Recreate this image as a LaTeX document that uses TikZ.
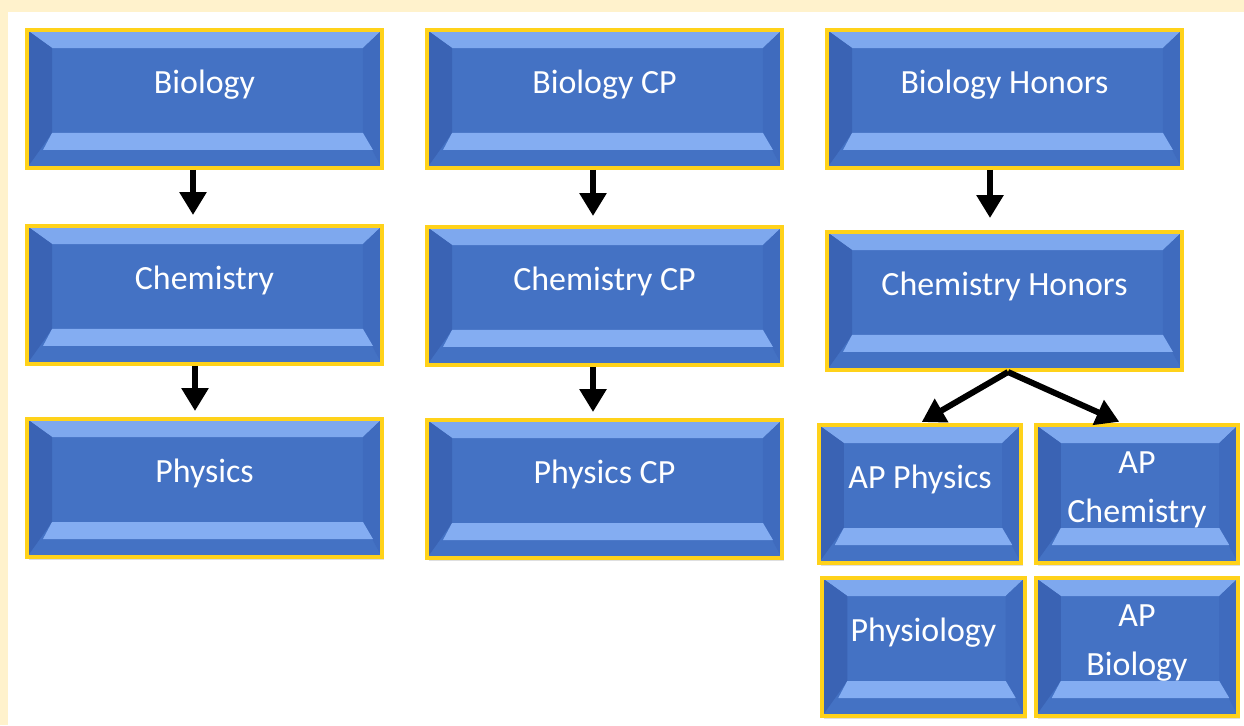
\documentclass[tikz,border=0pt]{standalone}
\usepackage{fontspec}
\setmainfont{Carlito}
\usetikzlibrary{arrows.meta,calc,shadows}

\definecolor{pagecream}{HTML}{FFF2CC}
\definecolor{facebl}{HTML}{4472C4}
\definecolor{bevtop}{HTML}{7EA8EE}
\definecolor{bevleft}{HTML}{3A63B4}
\definecolor{bevright}{HTML}{3F6BBE}
\definecolor{bevbot}{HTML}{84ADF2}
\definecolor{rimgold}{HTML}{FFD21A}

\begin{document}
\begin{tikzpicture}[x=0.02cm,y=-0.02cm,
  course/.style={rectangle,draw=rimgold,line width=0.08cm,fill=facebl,
    minimum width=7.1cm,minimum height=2.76cm,inner sep=0pt,
    text=white,font=\fontsize{19.3}{27.5}\selectfont,
    text height=0.5cm,text depth=0.74cm,
    drop shadow={shadow xshift=0.04cm,shadow yshift=-0.05cm,opacity=0.25},
    path picture={
      \path (path picture bounding box.north west) coordinate (a)
            (path picture bounding box.south east) coordinate (b);
      % bevel faces
      \fill[bevtop] (a) -- (a -| b) -- ($(a -| b)+(-19,18)$) -- ($(a)+(25,18)$) -- cycle;
      \fill[bevleft] (a) -- ($(a)+(25,18)$) -- ($(a |- b)+(25,-35)$) -- (a |- b) -- cycle;
      \fill[bevright] (a -| b) -- ($(a -| b)+(-19,18)$) -- ($(b)+(-19,-35)$) -- (b) -- cycle;
      \fill[bevbot] ($(a |- b)+(25,-35)$) -- ($(b)+(-19,-35)$) -- ($(b)+(-9,-18)$) -- ($(a |- b)+(16,-18)$) -- cycle;
    }},
  small course/.style={course,minimum width=4.05cm},
  two lines/.style={align=center,text height=1.5cm,text depth=0.38cm},
  arrow/.style={draw,line width=0.12cm,-{Triangle[length=0.46cm,width=0.52cm]},shorten >=0.18cm}]

  % page
  \useasboundingbox (0,0) rectangle (1244,725);
  \fill[pagecream] (0,0) rectangle (1244,725);
  \fill[white] (8,12) rectangle (1244,725);

  % general track
  \node[course] (bio) at (204.5,99) {Biology};
  \node[course] (chem) at (204.5,295) {Chemistry};
  \node[course] (phys) at (204.5,488) {Physics};

  % CP track
  \node[course] (biocp) at (604.5,99) {Biology CP};
  \node[course] (chemcp) at (604.5,296) {Chemistry CP};
  \node[course] (physcp) at (604.5,489) {Physics CP};

  % honors track
  \node[course] (bioh) at (1004.5,99) {Biology Honors};
  \node[course] (chemh) at (1004.5,301) {Chemistry Honors};
  \node[small course] (apphys) at (920,494) {AP Physics};
  \node[small course,two lines] (apchem) at (1137,494) {AP\\Chemistry};
  \node[small course] (physio) at (923.5,647) {Physiology};
  \node[small course,two lines] (apbio) at (1137,647) {AP\\Biology};

  \path[every edge/.style={arrow}]
   ([xshift=-0.23cm]bio.south) edge ([xshift=-0.23cm]chem.north)
   ([xshift=-0.19cm]chem.south) edge[shorten >=0.12cm] ([xshift=-0.19cm]phys.north)
   ([xshift=-0.23cm]biocp.south) edge ([xshift=-0.23cm]biocp.south |- chemcp.north)
   ([xshift=-0.23cm]chemcp.south) edge[shorten >=0.12cm] ([xshift=-0.23cm]physcp.north)
   ([xshift=-0.29cm]bioh.south) edge[shorten >=0.24cm] ([xshift=-0.29cm]chemh.north)
   ([xshift=0.07cm]chemh.south) edge[shorten >=0.04cm] (apphys.north)
   ([xshift=0.07cm]chemh.south) edge[shorten >=0.06cm] ([xshift=-0.3cm]apchem.north);

\end{tikzpicture}
\end{document}
